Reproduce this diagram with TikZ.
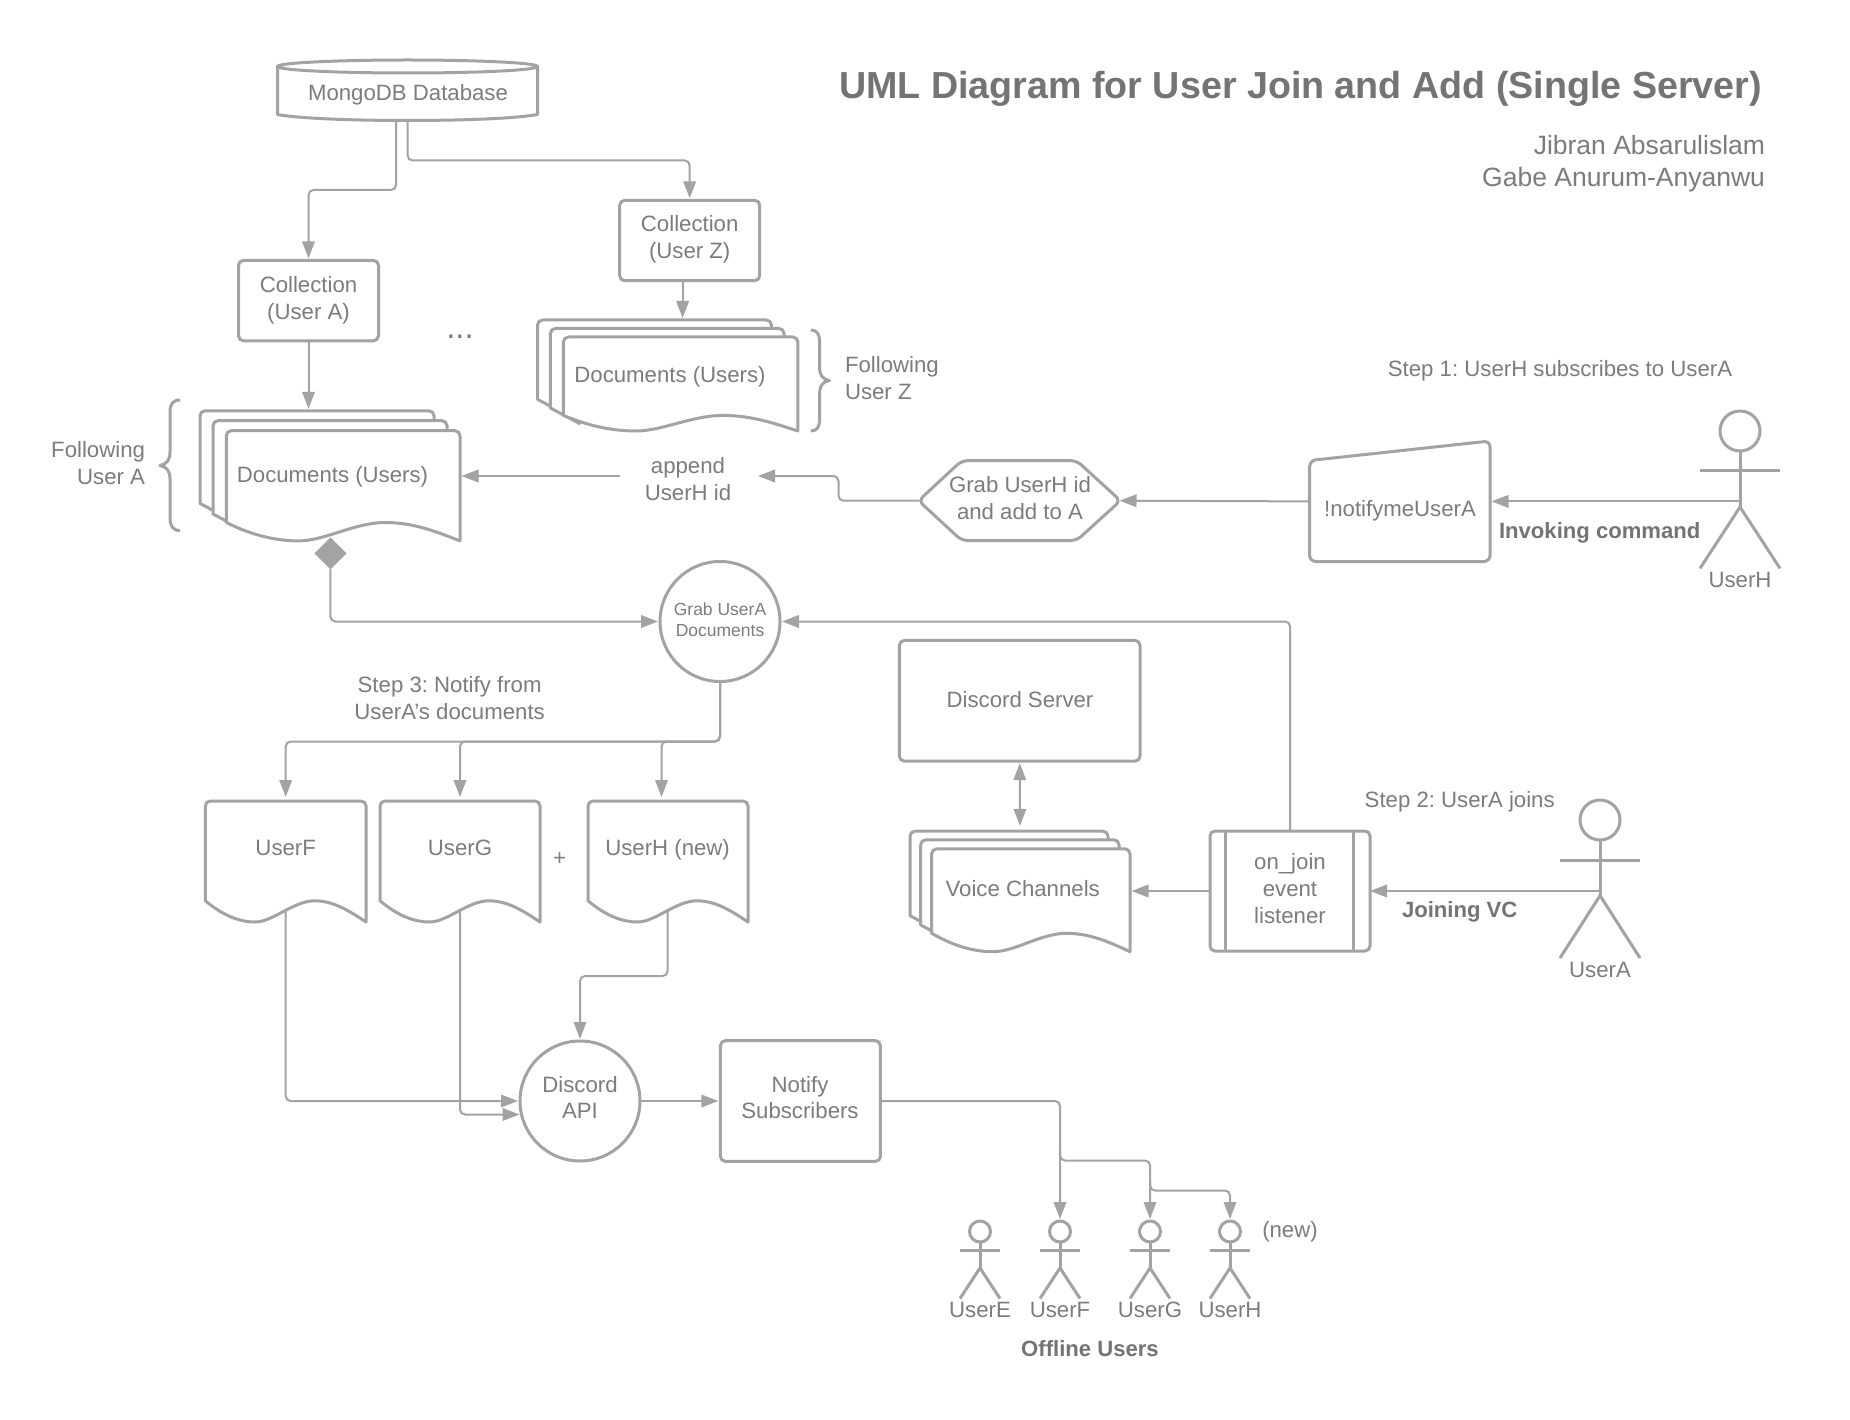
\documentclass[tikz,border=0pt]{standalone}
\usepackage{fontspec}
\setmainfont{Liberation Sans}
\usetikzlibrary{arrows.meta,shapes.geometric,calc}
\definecolor{ln}{HTML}{A3A3A3}
\definecolor{tx}{HTML}{7C7C7C}
\definecolor{txb}{HTML}{747474}
\tikzset{
  shapeline/.style={draw=ln,line width=3pt,line join=round},
  label/.style={text=tx,font=\fontsize{22.2}{26.7}\selectfont,align=center,inner sep=0pt,outer sep=0pt},
  boldlabel/.style={text=txb,font=\fontsize{22.1}{27}\selectfont\bfseries,align=center,inner sep=0pt},
  boxnode/.style={shapeline,fill=white,rectangle,rounded corners=5pt,inner sep=0pt,outer sep=0pt},
  roundnode/.style={shapeline,fill=white,circle,inner sep=0pt,outer sep=0pt,minimum size=120pt},
  conn/.style={draw=ln,line width=2pt,rounded corners=5pt,-{Triangle[length=17pt,width=12.5pt]},shorten >=2pt},
  tightconn/.style={conn,shorten >=0pt},
}
% L R top yl yb : wavy document
\newcommand{\wavedoc}[5]{%
  \pgfmathsetmacro{\dw}{#2-#1}\pgfmathsetmacro{\dh}{#5-#4}%
  \draw[shapeline,fill=white] (#1,#4) [rounded corners=5pt] -- (#1,#3) -- (#2,#3) -- (#2,#3+10) [sharp corners] -- (#2,#5)
    .. controls ({#2-.1*\dw},{#4+.5*\dh}) and ({#2-.2*\dw},#4) .. ({#1+.68*\dw},#4)
    .. controls ({#1+.55*\dw},#4) and ({#1+.42*\dw},#5) .. ({#1+.31*\dw},#5)
    .. controls ({#1+.22*\dw},#5) and ({#1+.12*\dw},{#4+.75*\dh}) .. (#1,#4) -- cycle;}
% L R top yl : back sheet of a stack
\newcommand{\backdoc}[4]{%
  \draw[shapeline,fill=white] (#1+30,#4+16) -- (#1,#4) [rounded corners=5pt] -- (#1,#3) -- (#2,#3) -- (#2,#3+30);}
% name x heady r army armhalf hipy footy foothalf
\newcommand{\umlactor}[9]{%
  \node[shapeline,circle,inner sep=0pt,outer sep=0pt,minimum size={2*#4 pt}] (#1) at (#2,#3) {};
  \draw[shapeline] (#1.south) -- (#2,#7);
  \draw[shapeline] (#2-#6,#5) -- (#2+#6,#5);
  \draw[shapeline,line join=miter] (#2-#9,#8) -- (#2,#7) -- (#2+#9,#8);}
\begin{document}
\frenchspacing
\begin{tikzpicture}[x=1pt,y=-1pt]
\useasboundingbox (0,0) rectangle (1850,1420);
\fill[white] (0,0) rectangle (1850,1420);

% title
\node[text=txb,font=\fontsize{37.65}{44}\selectfont\bfseries,anchor=east,inner sep=0pt] (title) at (1762,88.5) {UML Diagram for User Join and Add (Single Server)};
\node[label,anchor=east,align=right,font=\fontsize{26.5}{32}\selectfont] (authors) at (1765,164) {Jibran Absarulislam\\Gabe Anurum-Anyanwu};

% database
\draw[shapeline,fill=white] (277.5,66.5) -- (277.5,114.5) .. controls (320,122.5) and (495,122.5) .. (537.5,114.5) -- (537.5,66.5);
\draw[shapeline,fill=white] (407.5,66.5) ellipse [x radius=130,y radius=6.5];
\node[label] (db) at (408,94.4) {MongoDB Database};
\coordinate (dbA) at (396,121);
\coordinate (dbZ) at (407.6,121);

% collections
\node[boxnode,minimum width=140pt,minimum height=80.4pt] (collA) at (308.5,300.6) {};
\node[label] (collAText) at (308.5,300.6) {Collection\\(User A)};
\node[boxnode,minimum width=140pt,minimum height=80.4pt] (collZ) at (689.7,240.5) {};
\node[label] (collZText) at (689.7,239) {Collection\\(User Z)};
\node[label,font=\fontsize{33}{33}\selectfont] (dots) at (460,337) {...};

% document stacks
\backdoc{537.5}{771.4}{320}{399.3}
\backdoc{550.4}{784}{328.5}{408}
\wavedoc{563.4}{797.8}{337}{415.4}{431}
\node[label] (docsZ) at (670,376.4) {Documents (Users)};
\coordinate (zTop) at (682.6,320);

\backdoc{200}{434}{410.8}{503.4}
\backdoc{213}{447}{420.7}{514}
\wavedoc{226.3}{460}{430.7}{522.5}{540.9}
\node[label] (docsA) at (332.5,476.5) {Documents (Users)};
\coordinate (aTop) at (308.5,410.8);
\coordinate (aPort) at (461.5,476);

% braces
\draw[shapeline] (180,400) .. controls (173,400) and (170,404) .. (170,412) -- (170,452) .. controls (170,460) and (167,464) .. (160,465.5) .. controls (167,467) and (170,471) .. (170,479) -- (170,518) .. controls (170,526) and (173,530.6) .. (180,530.6);
\draw[shapeline] (810.7,330) .. controls (817,330) and (819.6,334) .. (819.6,342) -- (819.6,367) .. controls (819.6,375) and (822,379) .. (829.5,380.5) .. controls (822,382) and (819.6,386) .. (819.6,394) -- (819.6,419) .. controls (819.6,427) and (817,431) .. (810.7,431);
\node[label,align=right,anchor=east] (followA) at (145,463) {Following\\User A};
\node[label,align=left,anchor=west] (followZ) at (845,378) {Following\\User Z};

% diamond
\node[diamond,fill=ln,inner sep=0pt,outer sep=0pt,minimum width=32pt,minimum height=32pt] (dia) at (330.4,553.4) {};

% append
\node[label,minimum width=136pt] (append) at (688,479) {append\\UserH id};

% hexagon
\draw[shapeline,rounded corners=6pt,fill=white] (918.5,500.7) -- (961.7,460.7) -- (1076.7,460.7) -- (1120.5,500.7) -- (1076.7,540.5) -- (961.7,540.5) -- cycle;
\node[label] (hex) at (1020,498) {Grab UserH id\\and add to A};
\coordinate (hexL) at (919.5,500.7);
\coordinate (hexR) at (1119.5,500.7);

% trapezoid
\draw[shapeline,rounded corners=6pt,fill=white] (1309.7,460.5) -- (1490,441) -- (1490,561.5) -- (1309.7,561.5) -- cycle;
\node[label] (trap) at (1400,510.4) {!notifymeUserA};
\coordinate (trapL) at (1309,501.4);
\coordinate (trapR) at (1491.5,501.4);

% actors
\umlactor{headH}{1740}{431}{20}{470.4}{40}{507}{568.4}{40}
\coordinate (hipH) at (1740,501.4);
\node[label] (nameH) at (1740,580) {UserH};
\umlactor{headA}{1600}{820}{20}{860.5}{40}{895.6}{958}{40}
\coordinate (hipA) at (1600,891);
\node[label] (nameA) at (1600,970) {UserA};

% labels
\node[label] (step1) at (1560,370.4) {Step 1: UserH subscribes to UserA};
\node[label] (step2) at (1459.7,801.4) {Step 2: UserA joins};
\node[label] (step3) at (449.6,698) {Step 3: Notify from\\UserA's documents};
\node[boldlabel] (invoke) at (1599.7,532.5) {Invoking command};
\node[boldlabel] (joinvc) at (1459.7,912) {Joining VC};

% grab circle
\node[roundnode] (grab) at (720,621.5) {};
\node[label,font=\fontsize{17.5}{21}\selectfont] (grabText) at (720,619.5) {Grab UserA\\Documents};

% discord server
\node[boxnode,minimum width=240.7pt,minimum height=120.7pt] (server) at (1019.7,700.8) {};
\node[label] (serverText) at (1020,700) {Discord Server};

% voice channels
\backdoc{910}{1108}{831.2}{915.7}
\backdoc{920.7}{1119}{839.8}{925}
\wavedoc{931.7}{1130}{848.8}{933.3}{951.7}
\node[label] (voice) at (1022.7,888.5) {Voice Channels};
\coordinate (vTop) at (1020,827.8);
\coordinate (vPort) at (1131.5,891);

% on_join
\node[boxnode,minimum width=160pt,minimum height=120pt] (onjoin) at (1290,891) {};
\draw[shapeline] (1225.7,831) -- (1225.7,951);
\draw[shapeline] (1353.3,831) -- (1353.3,951);
\node[label] (onjoinText) at (1290,888.5) {on\_join\\event\\listener};

% user documents
\wavedoc{205.3}{366}{801}{900.8}{922}
\wavedoc{380}{540}{801}{900.8}{922}
\wavedoc{588}{748}{801}{900.8}{922}
\node[label] (docF) at (285.7,848) {UserF};
\node[label] (docG) at (460,848) {UserG};
\node[label] (docH) at (667.6,850) {UserH (new)};
\node[label] (plus) at (559.7,859) {+};
\coordinate (fTop) at (285.7,799);
\coordinate (gTop) at (460,799);
\coordinate (hTop) at (661.5,799);
\coordinate (fPort) at (285.7,911);
\coordinate (gPort) at (460,911);
\coordinate (hPort) at (667.6,911);

% discord API and notify
\node[roundnode] (discord) at (580,1101) {};
\node[label] (discordText) at (580,1097.5) {Discord\\API};
\node[boxnode,minimum width=160pt,minimum height=120.7pt] (notify) at (800.4,1101) {};
\node[label] (notifyText) at (800,1097.5) {Notify\\Subscribers};

% offline users
\umlactor{headE}{980}{1231.5}{10.5}{1250.5}{20}{1268}{1298.5}{20}
\umlactor{headF}{1060}{1231.5}{10.5}{1250.5}{20}{1268}{1298.5}{20}
\umlactor{headG}{1150}{1231.5}{10.5}{1250.5}{20}{1268}{1298.5}{20}
\umlactor{headN}{1230}{1231.5}{10.5}{1250.5}{20}{1268}{1298.5}{20}
\node[label] (nameE) at (980,1310.4) {UserE};
\node[label] (nameF) at (1060,1310.4) {UserF};
\node[label] (nameG) at (1150,1310) {UserG};
\node[label] (nameN) at (1230,1310.4) {UserH};
\node[label] (newl) at (1290,1231.5) {(new)};
\node[boldlabel] (offline) at (1090,1349) {Offline Users};
\coordinate (brF) at (1060,1150);
\coordinate (brG) at (1150,1180);

% connectors
\draw[conn] (dbA) -- ++(0,69) -| (collA.north);
\draw[conn] (dbZ) -- ++(0,39.5) -| (collZ.north);
\draw[conn] (zTop |- collZ.south) -- (zTop);
\draw[conn] (collA.south) -- (aTop);
\draw[tightconn] (append.west |- aPort) -- (aPort);
\draw[conn] (hexL) -- ++(-81,0) |- (append.east |- aPort);
\draw[tightconn] (trapL) -- (hexR);
\draw[tightconn] (hipH) -- (trapR);
\draw[tightconn] (hipA) -- (onjoin.east |- hipA);
\draw[conn] (dia.south) |- (grab.west);
\draw[conn] (onjoin.north) |- (grab.east);
\draw[conn] (grab.south) -- ++(0,60) -| (fTop);
\draw[conn] (grab.south) -- ++(0,60) -| (gTop);
\draw[conn] (grab.south) -- ++(0,60) -| (hTop);
\draw[conn,{Triangle[length=17pt,width=12.5pt]}-{Triangle[length=17pt,width=12.5pt]},shorten <=2pt] (server.south) -- (vTop);
\draw[tightconn] (onjoin.west) -- (vPort);
\draw[conn] (fPort) |- (discord.west);
\draw[conn] (gPort) |- (discord.193);
\draw[conn] (hPort) -- ++(0,65) -| (discord.north);
\draw[conn] (discord.east) -- (notify.west);
\draw[conn] (notify.east) -| (headF.north);
\draw[conn] (brF) |- (brG |- 0,1160.5) -- (headG.north);
\draw[conn] (brG) |- (headN.north |- 0,1190.5) -- (headN.north);
\end{tikzpicture}
\end{document}
